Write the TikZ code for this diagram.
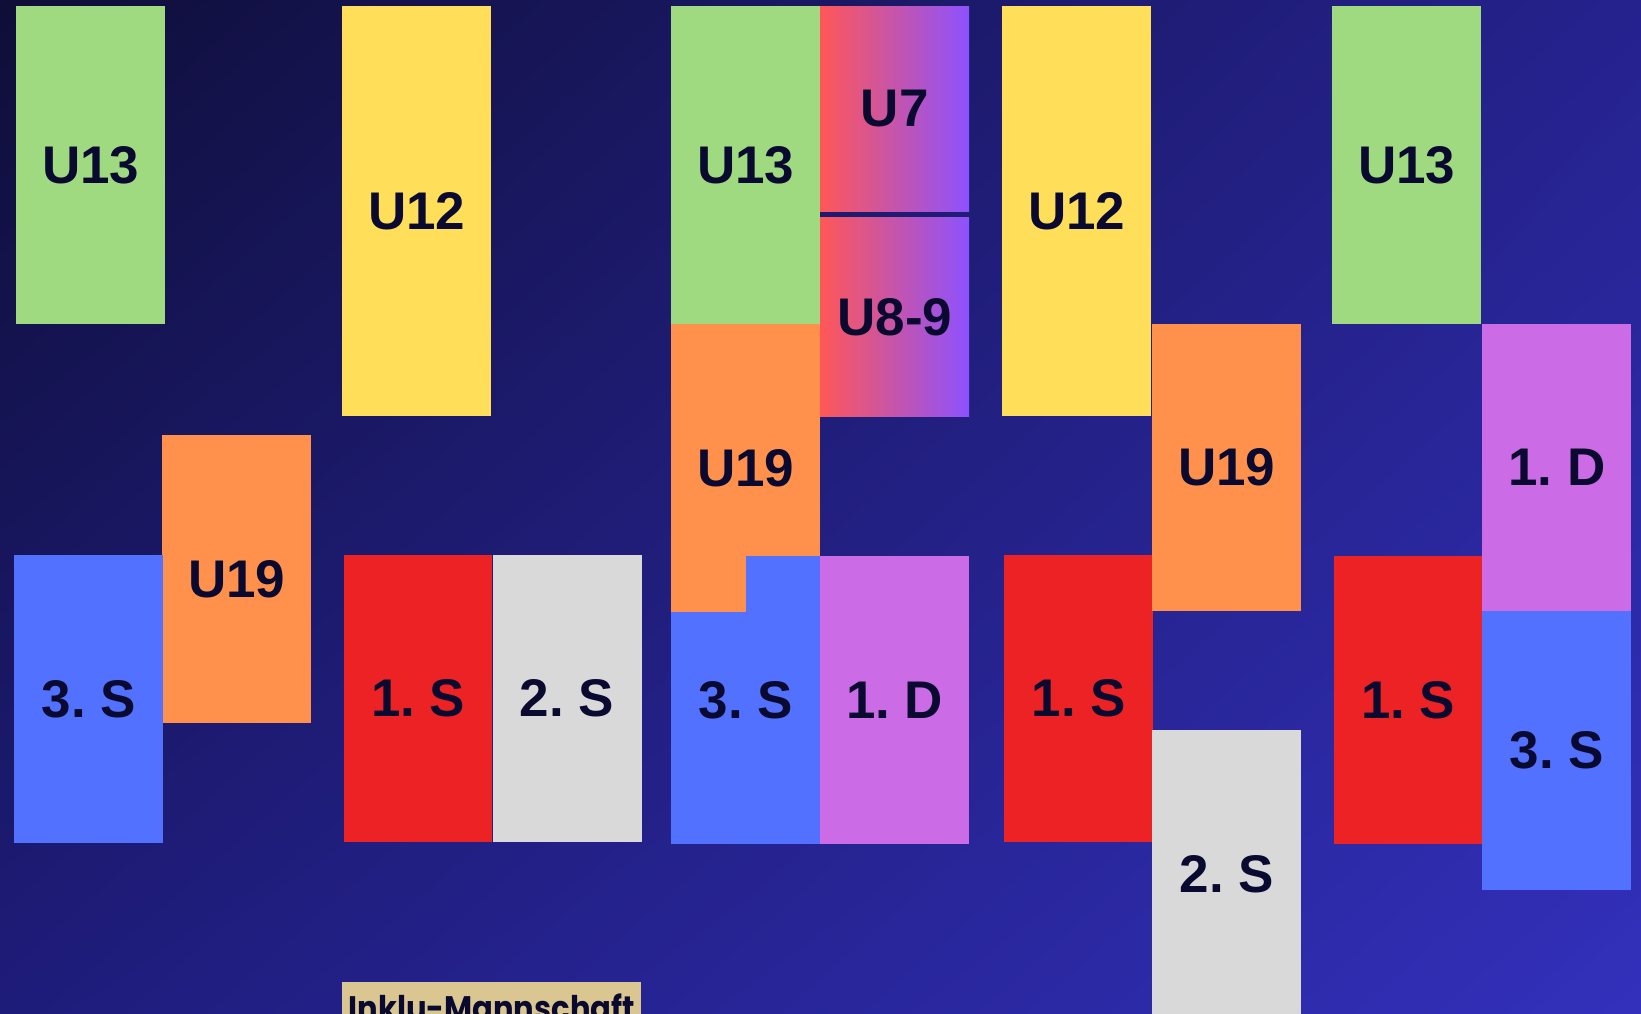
\documentclass[tikz,border=0pt]{standalone}
\usepackage{fontspec}
\setmainfont{Liberation Sans}
\newfontfamily\tagfont[FakeStretch=0.9]{Poppins}
\usepackage{xcolor}
\usepackage{tikz}
\usetikzlibrary{positioning,shadings}
\frenchspacing

\definecolor{ink}{HTML}{0A0A30}
\definecolor{tgreen}{HTML}{A0DA80}
\definecolor{tyellow}{HTML}{FFDE59}
\definecolor{torange}{HTML}{FF914D}
\definecolor{tblue}{HTML}{5271FF}
\definecolor{tred}{HTML}{ED2224}
\definecolor{tgrey}{HTML}{D9D9D9}
\definecolor{tpink}{HTML}{CB6CE6}
\definecolor{warm}{HTML}{FF5757}
\definecolor{cool}{HTML}{8C52FF}
\definecolor{tan}{HTML}{D9C690}
\definecolor{bgdark}{HTML}{0F0E38}
\definecolor{bgmidA}{HTML}{25228E}
\definecolor{bgmidB}{HTML}{1E1C7A}
\definecolor{bglight}{HTML}{3330BC}

\begin{document}
\begin{tikzpicture}[x=1pt, y=-1pt,
    team/.style={rectangle, fill=#1, inner sep=0pt, anchor=north west,
                 minimum width=149pt, text=ink,
                 font=\fontsize{53}{60}\selectfont\bfseries},
    grad/.style={rectangle, left color=warm, right color=cool, inner sep=0pt,
                 anchor=north west, minimum width=149pt, text=ink,
                 font=\fontsize{53}{60}\selectfont\bfseries},
    tag/.style={rectangle, fill=tan, anchor=north west, inner xsep=0pt,
                inner ysep=4pt, minimum width=299pt, minimum height=50pt,
                text=ink, font=\tagfont\fontsize{34}{38}\selectfont\bfseries},
]
    \useasboundingbox (0,0) rectangle (1641,1014);
    \clip (0,0) rectangle (1641,1014);
    \shade[upper left=bgdark, upper right=bgmidA, lower left=bgmidB,
           lower right=bglight] (0,0) rectangle (1641,1014);

    % first column
    \node[team=tgreen, minimum height=318pt] (a13) at (16,6) {U13};
    \node[team=torange, minimum height=288pt] (a19) at (162,435) {U19};
    \node[team=tblue, minimum height=288pt] (a3s) at (14,555) {3. S};

    % second column
    \node[team=tyellow, minimum height=410pt] (b12) at (342,6) {U12};
    \node[team=tred, minimum width=148pt, minimum height=287pt] (b1s) at (344,555) {1. S};
    \node[team=tgrey, minimum height=287pt, right=0pt of b1s] (b2s) {2. S};
    \node[tag] (inklu) at (342,982) {Inklu-Mannschaft};

    % third column
    \node[team=tgreen, minimum height=318pt] (c13) at (671,6) {U13};
    \node[team=torange, minimum height=288pt] (c19) at (671,324) {U19};
    \node[team=tblue, minimum height=288pt] (c3s) at (671,556) {3. S};
    \fill[torange] (671,556) rectangle (746,612);
    \node[grad, minimum height=205pt] (c7) at (820,6) {U7};
    \node[grad, minimum height=199pt, below=6pt of c7] (c89) {U8-9};
    \node[team=tpink, minimum height=288pt] (c1d) at (820,556) {1. D};

    % fourth column
    \node[team=tyellow, minimum height=410pt] (d12) at (1002,6) {U12};
    \node[team=tred, minimum height=287pt] (d1s) at (1004,555) {1. S};
    \node[team=torange, minimum height=287pt] (d19) at (1152,324) {U19};
    \node[team=tgrey, minimum height=288pt] (d2s) at (1152,730) {2. S};

    % fifth column
    \node[team=tgreen, minimum height=318pt] (e13) at (1332,6) {U13};
    \node[team=tpink, minimum height=287pt] (e1d) at (1482,324) {1. D};
    \node[team=tred, minimum width=148pt, minimum height=288pt] (e1s) at (1334,556) {1. S};
    \node[team=tblue, minimum height=279pt] (e3s) at (1482,611) {3. S};
\end{tikzpicture}
\end{document}
